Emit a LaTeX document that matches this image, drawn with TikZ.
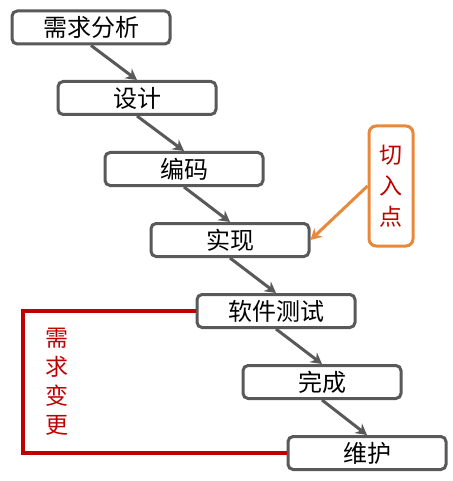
\documentclass[tikz,border=0pt]{standalone}
\usepackage{fontspec}
\setmainfont{Noto Sans CJK SC}
\usepackage{xcolor}
\definecolor{stageGray}{HTML}{595959}
\definecolor{entryOrange}{HTML}{E8883A}
\definecolor{changeRed}{HTML}{C00000}
\usepackage{tikz}
\usetikzlibrary{arrows.meta,positioning}
\tikzset{
    stage/.style={
        draw=stageGray,
        fill=white,
        rectangle,
        rounded corners=1.8mm,
        line width=3pt,
        minimum width=158pt,
        minimum height=33pt,
        inner sep=0pt,
        font=\fontsize{24}{26}\selectfont
    },
    entry/.style={
        draw=entryOrange,
        fill=white,
        rectangle,
        rounded corners=2.5mm,
        line width=3pt,
        minimum width=44pt,
        minimum height=120pt,
        inner sep=0pt,
        align=center,
        text=changeRed,
        font=\fontsize{23}{31}\selectfont
    },
    flow/.style={
        -{Stealth[length=11pt,width=12pt]},
        line width=3pt,
        color=stageGray
    },
    cutin/.style={
        -{Stealth[length=11pt,width=12pt]},
        line width=3pt,
        color=entryOrange
    },
    feedback/.style={
        line width=4pt,
        color=changeRed
    }
}
\begin{document}
\begin{tikzpicture}[x=1pt,y=-1pt]
    \useasboundingbox (0,0) rectangle (452,481);

    % waterfall stages
    \node[stage] (req)  at (91,27.5) {需求分析};
    \node[stage] (des)  at (137,98)  {设计};
    \node[stage] (code) at (184,169) {编码};
    \node[stage] (impl) at (230,240) {实现};
    \node[stage] (test) at (276,311) {软件测试};
    \node[stage] (done) at (322,382) {完成};
    \node[stage] (main) at (367,453) {维护};

    % stage to stage
    \draw[flow] (req.south)  -- (des.north);
    \draw[flow] (des.south)  -- (code.north);
    \draw[flow] (code.south) -- (impl.north);
    \draw[flow] (impl.south) -- (test.north);
    \draw[flow] (test.south) -- (done.north);
    \draw[flow] (done.south) -- (main.north);

    % entry point
    \node[entry] (cut) at (391,186) {切\\入\\点};
    \draw[cutin] (cut.west) -- (impl.east);

    % requirement change loop
    \coordinate (loopTop) at (23,311);
    \coordinate (loopBot) at (23,453);
    \draw[feedback] (test.west) -- (loopTop) -- (loopBot) -- (main.west);
    \node[align=center, text=changeRed, font=\fontsize{23}{29}\selectfont] (chg) at (57,382) {需\\求\\变\\更};
\end{tikzpicture}
\end{document}
